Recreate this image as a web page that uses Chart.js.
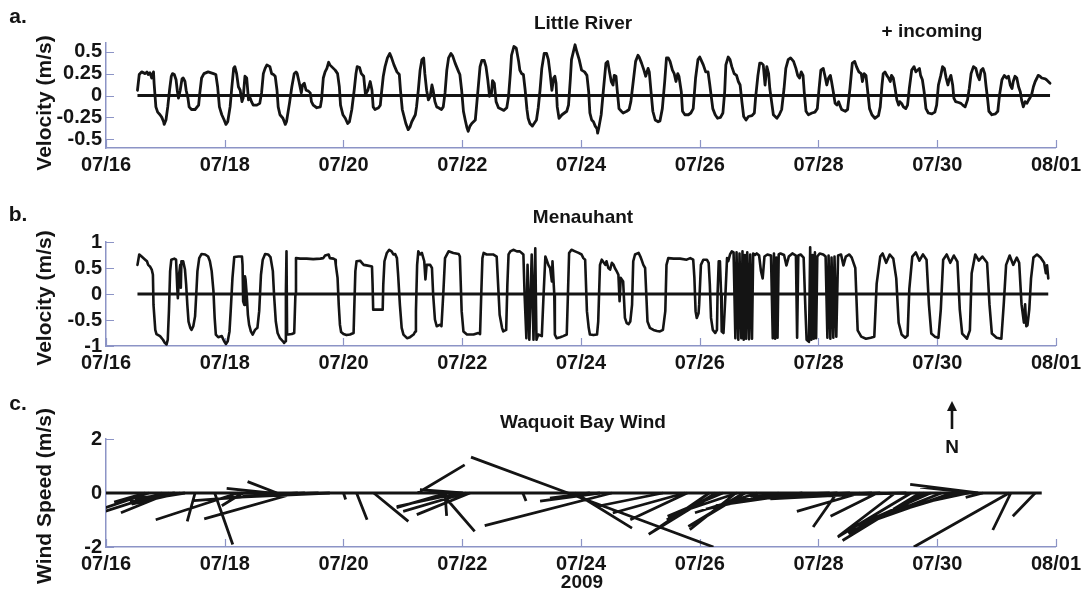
<!DOCTYPE html>
<html>
<head>
<meta charset="utf-8">
<script src="https://cdn.jsdelivr.net/npm/chart.js@4.4.1/dist/chart.umd.min.js"></script>
<style>
  html, body { margin: 0; padding: 0; background: #fff; }
  #fig { position: relative; width: 1086px; height: 596px; overflow: hidden;
         font-family: "Liberation Sans", Arial, sans-serif; font-weight: bold; color: #141414; }
  #fig canvas { position: absolute; left: 0; }
  .lbl { position: absolute; white-space: nowrap; line-height: 1; transform: translate(-50%, -50%); }
  .ylab { position: absolute; white-space: nowrap; line-height: 1; font-size: 21px;
          transform: translate(-50%, -50%) rotate(-90deg); }
</style>
</head>
<body>
<div id="fig">
  <canvas id="panelA" width="1086" height="180" style="top:0px"></canvas>
  <canvas id="panelB" width="1086" height="180" style="top:190px"></canvas>
  <canvas id="panelC" width="1086" height="216" style="top:380px"></canvas>

  <div class="lbl" style="left:18px;top:15px;font-size:21px">a.</div>
  <div class="lbl" style="left:583px;top:22px;font-size:19px">Little River</div>
  <div class="lbl" style="left:932px;top:30px;font-size:19px">+ incoming</div>
  <div class="ylab" style="left:43px;top:103px">Velocity (m/s)</div>

  <div class="lbl" style="left:18px;top:213px;font-size:21px">b.</div>
  <div class="lbl" style="left:583px;top:216px;font-size:19px">Menauhant</div>
  <div class="ylab" style="left:43px;top:298px">Velocity (m/s)</div>

  <div class="lbl" style="left:18px;top:402px;font-size:21px">c.</div>
  <div class="lbl" style="left:583px;top:421px;font-size:19px">Waquoit Bay Wind</div>
  <div class="ylab" style="left:43px;top:496px">Wind Speed (m/s)</div>
  <div class="lbl" style="left:582px;top:581px;font-size:19px">2009</div>

  <svg style="position:absolute;left:944px;top:401px" width="16" height="30">
    <line x1="8" y1="8" x2="8" y2="28" stroke="#141414" stroke-width="2.6"/>
    <polygon points="8,0 3,10 13,10" fill="#141414"/>
  </svg>
  <div class="lbl" style="left:952px;top:446px;font-size:19px">N</div>
</div>

<script>
// ---- time axis: days after 07/16 00:00 ----
const dateTicks  = [0, 2, 4, 6, 8, 10, 12, 14, 16];
const dateLabels = ['07/16', '07/18', '07/20', '07/22', '07/24', '07/26', '07/28', '07/30', '08/01'];

// ---- a. Little River velocity (m/s, + incoming) ----
const littleRiverDays = [
  0.53,0.56,0.60,0.66,0.69,0.71,0.74,0.77,0.80,0.81,0.84,0.87,0.91,0.94,0.97,0.98,1.01,1.04,1.07,1.10,
  1.12,1.15,1.18,1.20,1.22,1.25,1.28,1.30,1.33,1.35,1.38,1.40,1.44,1.50,1.56,1.58,1.61,1.65,1.72,1.81,
  1.85,1.88,1.91,1.95,1.99,2.02,2.05,2.09,2.12,2.15,2.17,2.20,2.23,2.26,2.29,2.31,2.34,2.37,2.40,2.43,
  2.45,2.48,2.54,2.59,2.62,2.65,2.68,2.71,2.76,2.79,2.82,2.85,2.88,2.90,2.93,2.98,3.02,3.04,3.09,3.13,
  3.17,3.20,3.22,3.25,3.29,3.31,3.34,3.37,3.41,3.44,3.46,3.49,3.55,3.61,3.63,3.66,3.69,3.72,3.75,3.77,
  3.83,3.86,3.90,3.93,3.95,3.99,4.03,4.07,4.10,4.14,4.18,4.21,4.23,4.27,4.30,4.34,4.37,4.41,4.45,4.48,
  4.50,4.53,4.59,4.62,4.64,4.67,4.70,4.74,4.78,4.81,4.85,4.90,4.94,4.96,4.99,5.02,5.05,5.09,5.12,5.15,
  5.21,5.23,5.26,5.29,5.32,5.35,5.37,5.40,5.43,5.46,5.49,5.51,5.54,5.57,5.60,5.65,5.68,5.71,5.74,5.77,
  5.81,5.84,5.88,5.94,5.96,5.99,6.02,6.05,6.08,6.10,6.13,6.16,6.19,6.22,6.24,6.27,6.30,6.33,6.37,6.40,
  6.43,6.46,6.49,6.51,6.54,6.57,6.61,6.67,6.70,6.75,6.78,6.81,6.83,6.87,6.91,6.95,6.97,7.00,7.03,7.06,
  7.09,7.11,7.14,7.18,7.21,7.25,7.28,7.31,7.34,7.38,7.42,7.45,7.48,7.51,7.54,7.56,7.58,7.60,7.63,7.68,
  7.72,7.76,7.79,7.82,7.84,7.90,7.93,7.97,8.01,8.06,8.10,8.13,8.15,8.18,8.21,8.24,8.27,8.28,8.30,8.34,
  8.38,8.42,8.45,8.48,8.51,8.54,8.56,8.59,8.61,8.64,8.68,8.71,8.77,8.81,8.84,8.88,8.92,8.96,8.98,9.02,
  9.06,9.09,9.13,9.15,9.18,9.21,9.25,9.30,9.33,9.37,9.41,9.44,9.47,9.50,9.54,9.57,9.60,9.63,9.65,9.69,
  9.71,9.75,9.81,9.85,9.89,9.93,9.97,10.00,10.02,10.06,10.10,10.14,10.17,10.19,10.22,10.26,10.30,10.35,10.39,10.42,
  10.44,10.48,10.51,10.54,10.58,10.62,10.65,10.68,10.71,10.74,10.78,10.82,10.88,10.92,10.94,10.98,11.01,11.04,11.07,11.10,
  11.13,11.16,11.18,11.21,11.24,11.30,11.34,11.38,11.42,11.45,11.49,11.53,11.58,11.62,11.65,11.68,11.71,11.74,11.76,11.79,
  11.83,11.89,11.94,11.98,12.01,12.04,12.08,12.11,12.14,12.17,12.20,12.22,12.25,12.28,12.31,12.34,12.36,12.39,12.45,12.49,
  12.53,12.57,12.61,12.64,12.68,12.72,12.74,12.77,12.80,12.83,12.86,12.90,12.95,13.01,13.04,13.07,13.09,13.12,13.15,13.18,
  13.21,13.23,13.26,13.29,13.32,13.35,13.37,13.40,13.43,13.47,13.50,13.53,13.57,13.61,13.64,13.67,13.70,13.72,13.75,13.78,
  13.81,13.85,13.91,13.96,13.99,14.02,14.06,14.09,14.12,14.15,14.18,14.20,14.23,14.26,14.28,14.31,14.36,14.40,14.43,14.47,
  14.51,14.54,14.57,14.61,14.65,14.68,14.71,14.74,14.77,14.80,14.82,14.85,14.87,14.92,14.98,15.02,15.05,15.09,15.13,15.17,
  15.20,15.23,15.26,15.28,15.31,15.34,15.37,15.40,15.42,15.45,15.48,15.51,15.54,15.56,15.59,15.62,15.65,15.68,15.70,15.73,
  15.76,15.82,15.84,15.87,15.90
];
const littleRiverVel = [
  0.06,0.24,0.27,0.25,0.27,0.24,0.26,0.20,0.27,0.14,-0.13,-0.19,-0.22,-0.25,-0.30,-0.33,-0.28,-0.13,0.06,0.22,
  0.25,0.24,0.18,0.06,-0.03,0.06,0.19,0.20,0.16,0.06,-0.03,-0.13,-0.16,-0.16,-0.11,0.03,0.20,0.25,0.27,0.25,
  0.24,0.10,-0.13,-0.22,-0.28,-0.33,-0.30,-0.13,0.10,0.31,0.33,0.25,0.10,0.06,-0.07,-0.03,0.22,0.20,-0.05,-0.03,
  -0.07,-0.11,-0.11,-0.09,0.03,0.25,0.31,0.35,0.33,0.25,0.24,0.22,0.06,-0.13,-0.22,-0.26,-0.33,-0.30,-0.09,0.10,
  0.25,0.27,0.25,0.16,0.03,0.12,0.14,0.06,0.05,0.03,-0.07,-0.11,-0.14,-0.13,-0.05,0.20,0.27,0.31,0.38,0.35,
  0.31,0.29,0.25,0.10,-0.11,-0.22,-0.26,-0.32,-0.30,-0.16,0.06,0.25,0.33,0.32,0.25,0.22,0.01,0.06,0.16,0.06,
  -0.13,-0.16,-0.14,-0.11,0.03,0.22,0.33,0.43,0.48,0.43,0.35,0.27,0.24,0.06,-0.16,-0.24,-0.32,-0.39,-0.36,-0.30,
  -0.22,-0.13,0.06,0.29,0.41,0.43,0.25,0.06,-0.05,-0.01,0.12,0.06,-0.07,-0.13,-0.14,-0.16,-0.13,0.03,0.29,0.43,
  0.48,0.45,0.37,0.27,0.24,0.06,-0.18,-0.28,-0.37,-0.41,-0.35,-0.32,-0.30,-0.28,-0.13,0.10,0.33,0.40,0.40,0.33,
  0.18,-0.01,0.01,0.17,0.14,-0.07,-0.14,-0.16,-0.17,-0.14,-0.01,0.25,0.46,0.56,0.54,0.39,0.29,0.25,0.24,0.06,
  -0.16,-0.26,-0.32,-0.35,-0.32,-0.28,-0.14,0.06,0.31,0.48,0.48,0.41,0.25,0.06,0.20,0.22,0.14,-0.13,-0.26,-0.22,
  -0.20,-0.18,-0.11,0.18,0.41,0.58,0.50,0.41,0.29,0.27,0.23,0.04,-0.20,-0.28,-0.30,-0.35,-0.38,-0.43,-0.37,-0.22,
  0.08,0.37,0.39,0.27,0.16,0.12,0.23,0.22,0.06,-0.15,-0.18,-0.20,-0.18,-0.16,-0.07,0.16,0.39,0.46,0.44,0.37,
  0.29,0.22,0.31,0.27,0.04,-0.18,-0.28,-0.30,-0.29,-0.15,0.16,0.43,0.43,0.39,0.29,0.25,0.16,0.25,0.22,0.04,
  -0.18,-0.22,-0.22,-0.20,-0.15,0.20,0.41,0.44,0.41,0.35,0.27,0.27,0.12,0.01,-0.15,-0.22,-0.26,-0.25,-0.20,0.04,
  0.35,0.44,0.41,0.33,0.25,0.23,0.16,0.12,-0.07,-0.24,-0.28,-0.24,-0.23,-0.20,-0.03,0.23,0.37,0.37,0.35,0.12,
  0.33,0.25,0.08,-0.07,-0.22,-0.26,-0.22,-0.16,0.08,0.31,0.41,0.43,0.39,0.31,0.23,0.20,0.27,0.23,0.04,-0.18,
  -0.22,-0.20,-0.19,-0.15,0.08,0.29,0.31,0.22,0.12,0.20,0.23,0.16,0.04,-0.09,-0.11,-0.07,-0.11,-0.16,-0.18,-0.16,
  0.08,0.37,0.39,0.33,0.27,0.25,0.16,0.25,0.23,0.04,-0.15,-0.22,-0.26,-0.23,-0.13,0.12,0.25,0.27,0.23,0.20,
  0.16,0.23,0.20,0.08,-0.05,-0.11,-0.07,-0.09,-0.13,-0.15,-0.11,0.08,0.29,0.33,0.27,0.29,0.31,0.23,0.18,0.04,
  -0.15,-0.20,-0.21,-0.19,-0.11,0.12,0.23,0.33,0.31,0.20,0.12,0.18,0.23,0.12,-0.03,-0.07,-0.08,-0.09,-0.11,-0.13,
  -0.05,0.08,0.25,0.33,0.31,0.23,0.18,0.29,0.31,0.25,0.12,-0.05,-0.18,-0.22,-0.21,-0.18,0.01,0.18,0.23,0.20,
  0.22,0.12,0.08,0.16,0.22,0.20,0.10,0.04,-0.05,-0.13,-0.07,-0.09,-0.05,-0.03,0.01,0.10,0.16,0.20,0.23,0.22,
  0.20,0.19,0.18,0.16,0.14
];

// ---- b. Menauhant velocity (m/s) ----
const menauhantDays = [
  0.53,0.56,0.60,0.66,0.69,0.71,0.74,0.77,0.79,0.80,0.83,0.85,0.91,0.96,0.99,1.02,1.04,1.06,1.08,1.10,
  1.15,1.18,1.20,1.21,1.23,1.25,1.26,1.27,1.30,1.33,1.35,1.37,1.39,1.42,1.44,1.47,1.50,1.52,1.54,1.57,
  1.61,1.67,1.72,1.75,1.78,1.81,1.83,1.85,1.89,1.95,1.99,2.02,2.05,2.08,2.10,2.13,2.16,2.23,2.29,2.30,
  2.31,2.33,2.34,2.35,2.37,2.39,2.41,2.44,2.47,2.51,2.55,2.58,2.61,2.64,2.68,2.73,2.77,2.81,2.83,2.86,
  2.89,2.93,2.98,3.00,3.02,3.03,3.04,3.05,3.07,3.13,3.17,3.19,3.20,3.27,3.38,3.49,3.61,3.66,3.69,3.75,
  3.77,3.83,3.86,3.87,3.90,3.92,3.94,3.96,4.00,4.05,4.11,4.17,4.18,4.20,4.22,4.28,4.31,4.34,4.39,4.48,
  4.49,4.50,4.59,4.66,4.67,4.69,4.73,4.77,4.81,4.84,4.87,4.90,4.92,4.95,4.98,5.01,5.07,5.12,5.18,5.21,
  5.22,5.24,5.26,5.29,5.32,5.36,5.38,5.40,5.46,5.49,5.51,5.54,5.57,5.63,5.65,5.68,5.71,5.77,5.85,5.94,
  5.96,5.99,6.02,6.08,6.19,6.27,6.30,6.32,6.34,6.36,6.41,6.52,6.58,6.61,6.63,6.67,6.69,6.74,6.76,6.78,
  6.81,6.86,6.92,6.97,7.03,7.05,7.08,7.10,7.13,7.17,7.20,7.23,7.25,7.28,7.34,7.37,7.40,7.42,7.45,7.48,
  7.51,7.52,7.55,7.56,7.59,7.65,7.70,7.76,7.78,7.80,7.84,7.90,7.96,8.01,8.04,8.07,8.10,8.13,8.15,8.21,
  8.27,8.29,8.32,8.35,8.41,8.43,8.46,8.49,8.52,8.55,8.57,8.60,8.63,8.65,8.67,8.71,8.74,8.77,8.80,8.83,
  8.86,8.88,8.91,8.97,9.00,9.02,9.05,9.08,9.10,9.12,9.16,9.22,9.28,9.33,9.38,9.42,9.44,9.47,9.56,9.67,
  9.78,9.84,9.89,9.91,9.93,9.95,9.98,9.99,10.02,10.06,10.12,10.15,10.17,10.19,10.22,10.26,10.29,10.30,10.32,10.34,
  10.36,10.37,10.40,10.43,10.46,10.48,10.51,10.54,10.57,10.60,10.62,10.65,10.67,10.70,10.72,10.74,10.76,10.78,10.80,10.83,
  10.85,10.88,10.90,10.93,10.96,11.00,11.03,11.06,11.09,11.14,11.20,11.23,11.25,11.27,11.29,11.31,11.33,11.36,11.42,11.46,
  11.50,11.56,11.62,11.64,11.66,11.70,11.75,11.78,11.80,11.84,11.86,11.88,11.90,11.92,11.94,11.96,11.98,12.02,12.08,12.12,
  12.15,12.17,12.20,12.22,12.25,12.27,12.30,12.33,12.38,12.42,12.46,12.52,12.56,12.62,12.66,12.72,12.80,12.88,12.94,12.98,
  13.04,13.08,13.14,13.20,13.26,13.31,13.35,13.40,13.46,13.50,13.53,13.58,13.64,13.70,13.76,13.82,13.86,13.90,13.96,14.02,
  14.06,14.10,14.16,14.22,14.28,14.34,14.38,14.42,14.50,14.55,14.58,14.64,14.70,14.76,14.84,14.88,14.92,15.00,15.08,15.12,
  15.16,15.22,15.28,15.34,15.38,15.42,15.46,15.48,15.50,15.52,15.55,15.58,15.62,15.68,15.74,15.80,15.83,15.85,15.87
];
const menauhantVel = [
  0.56,0.76,0.72,0.66,0.63,0.56,0.53,0.47,0.37,-0.21,-0.69,-0.77,-0.81,-0.88,-0.94,-0.97,-0.88,-0.33,0.44,0.66,
  0.68,0.66,0.12,-0.08,0.37,0.56,0.12,0.63,0.63,0.47,0.18,-0.21,-0.53,-0.65,-0.69,-0.62,-0.43,-0.01,0.44,0.69,
  0.77,0.76,0.72,0.63,0.44,0.05,-0.46,-0.78,-0.83,-0.81,-0.91,-0.96,-0.91,-0.72,-0.33,0.31,0.71,0.72,0.72,0.56,
  -0.14,-0.21,0.34,0.28,-0.01,-0.40,-0.59,-0.72,-0.78,-0.69,-0.65,-0.33,0.37,0.66,0.77,0.76,0.71,0.44,-0.01,-0.53,
  -0.75,-0.85,-0.91,-0.94,-0.91,0.05,0.82,-0.78,-0.78,-0.77,-0.75,-0.01,0.69,0.68,0.68,0.67,0.68,0.69,0.74,0.76,
  0.69,0.68,0.66,0.56,0.31,-0.21,-0.59,-0.73,-0.77,-0.79,-0.78,-0.75,-0.33,0.44,0.63,0.64,0.60,0.56,0.55,0.53,
  0.18,-0.30,-0.30,-0.30,0.18,0.63,0.79,0.85,0.82,0.76,0.77,0.69,0.37,-0.21,-0.65,-0.78,-0.85,-0.83,-0.78,-0.72,
  -0.33,0.56,0.82,0.76,0.79,0.63,0.28,0.56,0.56,0.50,-0.01,-0.49,-0.62,-0.59,-0.62,-0.01,0.69,0.82,0.79,0.77,
  0.72,-0.33,-0.72,-0.78,-0.78,-0.75,-0.77,-0.01,0.69,0.79,0.76,0.76,0.72,0.05,-0.40,-0.65,-0.72,-0.69,0.18,0.76,
  0.82,0.85,0.82,0.82,0.76,-0.01,-0.85,0.56,-0.88,0.76,-0.88,0.88,-0.88,-0.78,-0.81,-0.01,0.72,0.66,0.56,0.50,
  0.24,0.63,-0.01,-0.78,-0.85,-0.83,-0.81,-0.78,-0.01,0.79,0.85,0.82,0.79,0.76,0.69,0.66,-0.33,-0.65,-0.78,-0.79,
  -0.78,-0.53,0.56,0.66,0.56,0.63,0.50,0.47,0.60,0.56,0.50,0.44,0.37,-0.14,0.31,0.24,-0.46,-0.56,-0.58,-0.53,
  -0.21,0.63,0.76,0.79,0.72,0.66,0.56,0.50,-0.01,-0.53,-0.65,-0.69,-0.71,-0.72,-0.69,-0.33,0.56,0.69,0.68,0.68,
  0.66,0.69,0.66,0.31,-0.33,-0.46,-0.37,-0.21,0.56,0.66,0.66,0.60,0.18,-0.46,-0.69,-0.75,-0.69,-0.01,0.63,0.63,
  -0.01,-0.72,-0.75,-0.08,0.69,0.63,0.76,0.82,0.80,-0.85,0.80,-0.88,0.78,-0.85,0.82,-0.88,0.75,-0.86,0.80,-0.87,
  0.76,-0.86,0.78,0.75,0.78,0.74,0.45,0.30,0.72,0.76,0.74,-0.85,0.78,-0.86,0.70,-0.84,0.76,0.78,0.75,0.55,
  0.72,0.78,0.74,-0.84,0.74,0.76,0.70,-0.30,-0.88,-0.92,0.90,-0.88,0.75,-0.86,0.80,-0.85,0.72,0.78,0.76,0.72,
  -0.84,0.74,-0.86,0.70,-0.84,0.72,-0.82,0.74,0.76,0.55,0.72,0.76,0.70,0.50,-0.70,-0.82,-0.86,-0.84,-0.82,0.20,
  0.72,0.78,0.60,0.76,0.68,0.30,-0.55,-0.78,-0.84,-0.80,0.10,0.72,0.80,0.64,0.76,0.66,-0.20,-0.76,-0.82,-0.84,
  -0.30,0.66,0.76,0.60,0.74,0.62,-0.30,-0.76,-0.86,-0.70,0.40,0.76,0.64,0.72,0.60,-0.20,-0.76,-0.84,-0.86,-0.20,
  0.56,0.74,0.56,0.70,0.60,-0.20,-0.55,-0.20,-0.62,-0.60,-0.30,0.30,0.70,0.76,0.70,0.60,0.40,0.55,0.30
];

// ---- c. Waquoit Bay wind sticks: start day, east (u) and north (v) components, m/s ----
const windDays = [
  0.66,0.72,0.95,1.07,1.16,1.25,1.33,1.50,1.83,2.22,2.30,2.76,2.88,3.20,3.23,3.35,3.58,3.77,4.00,4.22,
  4.51,5.25,5.65,5.71,5.74,5.96,6.01,6.06,6.13,7.02,7.78,7.78,7.90,8.15,8.32,8.52,9.38,9.75,9.79,10.16,
  10.27,10.34,10.39,10.61,10.63,10.74,10.76,10.97,11.33,11.73,12.19,12.31,12.32,12.53,12.70,12.90,12.99,13.04,13.29,13.48,
  13.56,13.71,13.78,13.89,14.07,14.24,14.36,14.53,14.64,14.69,14.77,15.21,15.24,15.65
];
const windU = [
  -1.15,-1.60,-2.11,-1.80,-1.48,-1.80,-2.04,-0.29,0.67,-3.04,-0.77,-1.60,-1.09,-3.40,-3.85,-3.08,-2.82,-3.33,0.08,0.39,
  1.28,1.74,1.23,0.06,-1.86,-2.34,-1.59,-2.32,-1.97,0.12,-3.59,5.39,2.11,-1.48,-2.22,-4.71,-2.47,-2.67,-2.11,-2.24,
  -2.47,-1.97,-2.05,-1.71,-2.19,-2.05,-1.93,-2.31,-2.70,-3.21,-2.96,-0.88,-3.97,-3.33,-2.34,-4.48,-1.73,-4.07,-2.09,-4.48,
  -2.72,-2.87,-2.81,-2.81,-2.81,-2.81,-2.69,-2.81,-2.04,-2.52,-0.64,-3.53,-0.67,-0.83
];
const windV = [
  -0.34,-0.54,-0.67,-0.73,-0.22,-0.41,-0.33,-1.05,-1.91,-0.99,-0.47,0.17,0.42,-0.96,-0.28,-0.19,-0.11,-0.15,-0.24,-0.99,
  -1.05,1.04,-1.42,-0.85,-0.54,-0.50,0.12,-0.68,-0.80,-0.30,1.33,-2.00,-1.30,-0.19,-0.30,-1.21,-0.50,-0.74,-0.99,-1.53,
  -1.52,-0.99,-0.86,-1.36,-0.73,-1.24,-1.17,-0.73,-0.60,-0.47,-0.11,-1.26,-0.28,-0.15,-0.68,-0.22,-0.86,-0.22,-1.60,-0.11,
  -1.63,-1.76,-1.50,-1.24,-1.11,-0.99,-0.80,-0.60,0.22,0.32,-0.16,-2.00,-1.37,-0.86
];
const windRecord = [0, 15.76];   // first and last day of the wind record

// axis ticks
const velTicksA = [-0.5, -0.25, 0, 0.25, 0.5];
const velLabelsA = ['-0.5', '-0.25', '0', '0.25', '0.5'];
const velTicksB = [-1, -0.5, 0, 0.5, 1];
const velLabelsB = ['-1', '-0.5', '0', '0.5', '1'];
const windTicks = [-2, 0, 2];
const windLabels = ['-2', '0', '2'];

// ---- drawing ----
const INK = '#141414';
const AXIS = 'rgb(140,148,198)';
const FONT = '"Liberation Sans", Arial, sans-serif';
// horizontal length of a 1 m/s stick, in days (equal pixel scale on both axes)
const STICK_DAYS_PER_MS = 0.4547;

Chart.defaults.font.family = FONT;
Chart.defaults.font.weight = 'bold';
Chart.defaults.color = INK;

const innerTicks = {
  id: 'innerTicks',
  beforeDatasetsDraw(chart) {
    const { ctx, chartArea: a, scales: { x, y } } = chart;
    ctx.save();
    ctx.strokeStyle = AXIS;
    ctx.lineWidth = 1.2;
    ctx.beginPath();
    x.ticks.forEach(t => {
      const px = Math.round(x.getPixelForValue(t.value)) + 0.5;
      ctx.moveTo(px, a.bottom);
      ctx.lineTo(px, a.bottom - 8);
    });
    y.ticks.forEach(t => {
      const py = Math.round(y.getPixelForValue(t.value)) + 0.5;
      ctx.moveTo(a.left, py);
      ctx.lineTo(a.left + 8, py);
    });
    ctx.stroke();
    ctx.restore();
  }
};

function trace(days, values, width) {
  return {
    data: days.map((d, i) => ({ x: d, y: values[i] })),
    borderColor: INK, borderWidth: width, pointRadius: 0, tension: 0,
    borderJoinStyle: 'round', borderCapStyle: 'round', spanGaps: false
  };
}

function zeroLine(first, last) {
  return {
    data: [{ x: first, y: 0 }, { x: last, y: 0 }],
    borderColor: INK, borderWidth: 3, pointRadius: 0
  };
}

function panel(id, datasets, yMin, yMax, yTicks, yLabels, padTop, xHeight) {
  return new Chart(document.getElementById(id), {
    type: 'line',
    data: { datasets },
    options: {
      responsive: false,
      animation: false,
      events: [],
      layout: { padding: { top: padTop, right: 30, bottom: 0, left: 0 } },
      plugins: { legend: { display: false }, tooltip: { enabled: false } },
      scales: {
        x: {
          type: 'linear', min: dateTicks[0], max: dateTicks[dateTicks.length - 1],
          grid: { display: true, drawOnChartArea: false, drawTicks: false },
          border: { display: true, color: AXIS, width: 1.5 },
          afterBuildTicks: s => { s.ticks = dateTicks.map(v => ({ value: v })); },
          afterFit: s => { s.height = xHeight; },
          ticks: {
            autoSkip: false, maxRotation: 0, padding: 5, color: INK,
            font: { size: 20, weight: 'bold' },
            callback: v => dateLabels[dateTicks.indexOf(v)]
          }
        },
        y: {
          type: 'linear', min: yMin, max: yMax,
          grid: { display: true, drawOnChartArea: false, drawTicks: false },
          border: { display: true, color: AXIS, width: 1.5 },
          afterBuildTicks: s => { s.ticks = yTicks.map(v => ({ value: v })); },
          afterFit: s => { s.width = 106; },
          ticks: {
            autoSkip: false, padding: 4, color: INK,
            font: { size: 20, weight: 'bold' },
            callback: v => yLabels[yTicks.indexOf(v)]
          }
        }
      }
    },
    plugins: [innerTicks]
  });
}

// a. Little River
panel('panelA', [
  zeroLine(littleRiverDays[0], littleRiverDays[littleRiverDays.length - 1]),
  trace(littleRiverDays, littleRiverVel, 2.8)
], -0.6, 0.6, velTicksA, velLabelsA, 43, 32);

// b. Menauhant
panel('panelB', [
  zeroLine(menauhantDays[0], menauhantDays[menauhantDays.length - 1]),
  trace(menauhantDays, menauhantVel, 2.6)
], -1, 1, velTicksB, velLabelsB, 52, 24);

// c. wind sticks: each stick runs from (day, 0) to the wind vector tip
const stickPoints = [];
windDays.forEach((d, i) => {
  stickPoints.push({ x: d, y: 0 });
  stickPoints.push({ x: d + windU[i] * STICK_DAYS_PER_MS, y: windV[i] });
  stickPoints.push({ x: d, y: null });
});
panel('panelC', [
  zeroLine(windRecord[0], windRecord[1]),
  {
    data: stickPoints, borderColor: INK, borderWidth: 2.8, pointRadius: 0,
    tension: 0, spanGaps: false, borderCapStyle: 'butt'
  }
], -2, 2, windTicks, windLabels, 59, 49);
</script>
</body>
</html>
